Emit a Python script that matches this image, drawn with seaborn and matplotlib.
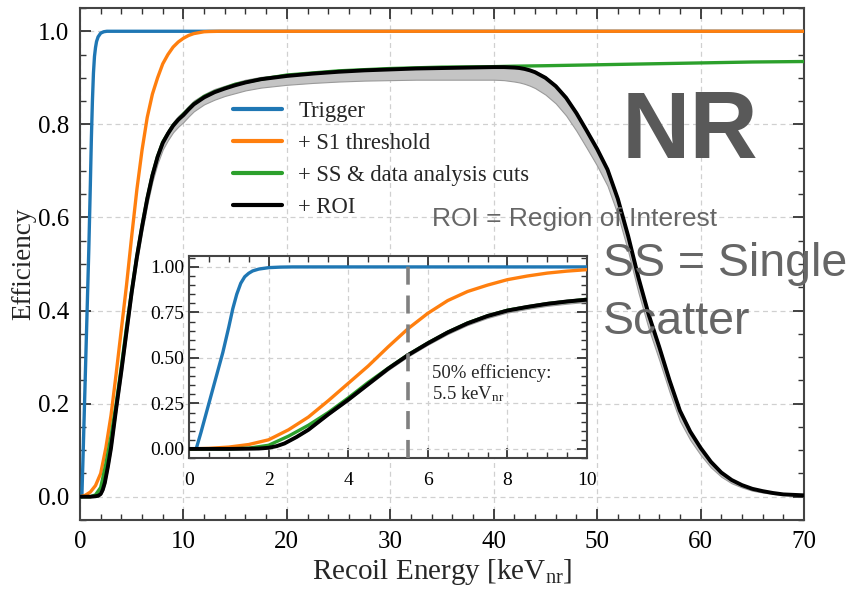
import numpy as np
import pandas as pd
import matplotlib
matplotlib.use("Agg")
import matplotlib.pyplot as plt
from matplotlib.ticker import MultipleLocator
import seaborn as sns

# ---------------- data ----------------
trigger_E = [0, 0.18, 0.3, 0.5, 0.7, 0.85, 1.0, 1.1, 1.2, 1.3, 1.4, 1.5, 1.6, 1.75, 2.0, 2.3, 2.6, 70]
trigger_eff = [0, 0, 0.09, 0.25, 0.41, 0.53, 0.67, 0.77, 0.85, 0.91, 0.946, 0.965, 0.978, 0.988, 0.996, 0.999,
               1.0, 1.0]

s1_E = [0, 0.5, 1.0, 1.5, 2.0, 2.5, 3.0, 3.5, 4.0, 4.5, 5.0, 5.5, 6.0, 6.5, 7.0, 7.5, 8.0, 8.5, 9.0, 9.5, 10,
        10.5, 11, 11.5, 12, 12.5, 13.5, 70]
s1_eff = [0, 0.003, 0.01, 0.024, 0.05, 0.105, 0.175, 0.265, 0.36, 0.455, 0.56, 0.66, 0.745, 0.815, 0.865, 0.9,
          0.93, 0.95, 0.966, 0.977, 0.985, 0.991, 0.995, 0.997, 0.999, 0.9995, 1.0, 1.0]

ss_E = [0, 1.0, 1.5, 2.0, 2.5, 3.0, 3.5, 4.0, 4.5, 5.0, 5.5, 6, 6.5, 7, 7.5, 8, 9, 10, 11, 12, 13, 15, 17.5, 20,
        25, 30, 35, 40, 42, 45, 50, 55, 60, 65, 70]
ss_eff = [0, 0.0, 0.004, 0.02, 0.07, 0.13, 0.2, 0.28, 0.365, 0.443, 0.517, 0.582, 0.641, 0.692, 0.731, 0.762,
          0.798, 0.822, 0.844, 0.86, 0.87, 0.886, 0.897, 0.906, 0.915, 0.92, 0.923, 0.924, 0.925, 0.926, 0.928,
          0.930, 0.932, 0.934, 0.935]

roi_E = [0, 1.0, 1.5, 1.75, 2.0, 2.2, 2.4, 2.7, 3.0, 3.5, 4.0, 4.5, 5.0, 5.5, 6.0, 6.5, 7.0, 7.5, 8.0, 8.5, 9.0,
         9.5, 10, 10.5, 11, 12, 13, 14, 15, 16, 17.5, 20, 22.5, 25, 27.5, 30, 32.5, 35, 37.5, 40, 41, 42, 42.5,
         43, 43.5, 44, 45, 46, 47, 48, 49, 50, 51, 52, 53, 54, 55, 56, 57, 58, 59, 60, 61, 62, 63, 64, 65, 66,
         67, 68, 69, 70]
roi_eff = [0, 0, 0.001, 0.002, 0.006, 0.015, 0.03, 0.065, 0.105, 0.19, 0.27, 0.355, 0.44, 0.515, 0.58, 0.64,
           0.69, 0.73, 0.76, 0.78, 0.797, 0.81, 0.82, 0.832, 0.843, 0.858, 0.869, 0.877, 0.884, 0.89, 0.897,
           0.904, 0.909, 0.913, 0.916, 0.918, 0.92, 0.921, 0.922, 0.923, 0.923, 0.922, 0.921, 0.919, 0.916,
           0.912, 0.9, 0.882, 0.857, 0.824, 0.786, 0.747, 0.703, 0.64, 0.56, 0.47, 0.39, 0.322, 0.25, 0.185,
           0.14, 0.105, 0.075, 0.052, 0.036, 0.025, 0.017, 0.012, 0.008, 0.005, 0.004, 0.003]
# uncertainty band (below / above the ROI curve)
roi_err_lo = [0, 0, 0, 0.001, 0.002, 0.003, 0.004, 0.005, 0.006, 0.008, 0.01, 0.01, 0.012, 0.012, 0.012, 0.013,
              0.013, 0.014, 0.014, 0.014, 0.014, 0.015, 0.015, 0.015, 0.015, 0.015, 0.016, 0.016, 0.017, 0.017,
              0.018, 0.019, 0.02, 0.021, 0.022, 0.023, 0.024, 0.025, 0.026, 0.027, 0.028, 0.03, 0.031, 0.032,
              0.033, 0.034, 0.036, 0.037, 0.038, 0.038, 0.037, 0.036, 0.035, 0.034, 0.033, 0.032, 0.03, 0.028,
              0.025, 0.022, 0.018, 0.015, 0.012, 0.009, 0.007, 0.005, 0.004, 0.003, 0.002, 0.001, 0.001, 0.001]
roi_err_hi = [0, 0, 0, 0.001, 0.002, 0.003, 0.004, 0.005, 0.005, 0.006, 0.007, 0.008, 0.008, 0.008, 0.008,
              0.008, 0.008, 0.008, 0.008, 0.008, 0.008, 0.008, 0.008, 0.008, 0.008, 0.007, 0.007, 0.006, 0.006,
              0.006, 0.005, 0.004, 0.003, 0.003, 0.003, 0.003, 0.003, 0.003, 0.003, 0.003, 0.003, 0.003, 0.003,
              0.003, 0.003, 0.003, 0.003, 0.003, 0.003, 0.003, 0.003, 0.003, 0.003, 0.003, 0.003, 0.003, 0.003,
              0.003, 0.003, 0.002, 0.002, 0.002, 0.002, 0.002, 0.001, 0.001, 0.001, 0.001, 0.001, 0.001, 0.001,
              0.001]

labels = ["Trigger", "+ S1 threshold", "+ SS & data analysis cuts", "+ ROI"]
colors = ["#1f77b4", "#ff7f0e", "#2ca02c", "black"]
threshold_50 = 5.5

# ---------------- style ----------------
sns.set_theme(style="ticks")
plt.rcParams["font.family"] = ["Liberation Serif", "DejaVu Serif"]
plt.rcParams["mathtext.fontset"] = "custom"
plt.rcParams["mathtext.rm"] = "Liberation Serif"
plt.rcParams["mathtext.it"] = "Liberation Serif:italic"

fig = plt.figure(figsize=(8.52, 5.91), dpi=100)
ax = fig.add_axes([80 / 852, 1 - 520 / 591, 724 / 852, 512 / 591])
axin = fig.add_axes([189 / 852, 1 - 458 / 591, 398 / 852, 202 / 591])

band_color = "#c4c4c4"


def draw(a, legend=False):
    lo = np.array(roi_eff) - np.array(roi_err_lo)
    hi = np.array(roi_eff) + np.array(roi_err_hi)
    a.fill_between(roi_E, lo, hi, color=band_color, edgecolor="#9a9a9a", linewidth=0.8, zorder=2)
    sns.lineplot(x=trigger_E, y=trigger_eff, ax=a, color=colors[0], lw=2.4,
                 label=labels[0] if legend else None, zorder=3)
    sns.lineplot(x=s1_E, y=s1_eff, ax=a, color=colors[1], lw=2.4,
                 label=labels[1] if legend else None, zorder=3)
    sns.lineplot(x=ss_E, y=ss_eff, ax=a, color=colors[2], lw=2.4,
                 label=labels[2] if legend else None, zorder=3)
    sns.lineplot(x=roi_E, y=roi_eff, ax=a, color=colors[3], lw=2.8,
                 label=labels[3] if legend else None, zorder=4)


def style_axes(a):
    a.grid(True, which="major", linestyle=(0, (4, 3)), color="#d0d0d0", linewidth=0.9)
    a.tick_params(which="both", direction="in", top=True, right=True, colors="#333333")
    a.tick_params(which="major", length=8, width=1.3)
    a.tick_params(which="minor", length=4, width=1.0)
    for s in a.spines.values():
        s.set_color("#444444")
        s.set_linewidth(1.5)


draw(ax, legend=True)
ax.set_xlim(0, 70)
ax.set_ylim(-0.05, 1.05)
ax.xaxis.set_major_locator(MultipleLocator(10))
ax.xaxis.set_minor_locator(MultipleLocator(2))
ax.yaxis.set_major_locator(MultipleLocator(0.2))
ax.yaxis.set_minor_locator(MultipleLocator(0.05))
ax.yaxis.set_major_formatter(matplotlib.ticker.FormatStrFormatter("%.1f"))
style_axes(ax)
ax.tick_params(labelsize=18, labelcolor="black", pad=8)
ax.set_xlabel(r"Recoil Energy [keV$_\mathrm{nr}$]", fontsize=21, labelpad=3)
ax.set_ylabel("Efficiency", fontsize=19.5, labelpad=1)

leg = ax.legend(loc="upper left", bbox_to_anchor=(0.199, 0.836), frameon=False, fontsize=16.3,
                handlelength=2.17, handletextpad=0.7, labelspacing=0.49, borderaxespad=0)
for h in leg.get_lines():
    h.set_linewidth(3)

draw(axin)
axin.axvline(threshold_50, color="#808080", linestyle=(0, (5, 3)), lw=2.6, zorder=5)
axin.set_xlim(0, 10)
axin.set_ylim(-0.05, 1.06)
axin.xaxis.set_major_locator(MultipleLocator(2))
axin.xaxis.set_minor_locator(MultipleLocator(0.5))
axin.yaxis.set_major_locator(MultipleLocator(0.25))
axin.yaxis.set_minor_locator(MultipleLocator(0.05))
axin.yaxis.set_major_formatter(matplotlib.ticker.FormatStrFormatter("%.2f"))
style_axes(axin)
axin.tick_params(which="major", length=7)
axin.tick_params(labelsize=14, labelcolor="black")
axin.tick_params(axis="x", pad=10)
axin.set_facecolor("white")
axin.set_zorder(5)
axin.text(6.1, 0.357, "50% efficiency:\n5.5 keV$_\\mathrm{nr}$", fontsize=13.5, va="center", ha="left",
          linespacing=1.2)

# annotation texts
fig.text(622 / 852, 1 - 158 / 591, "NR", fontsize=68, fontweight="bold", color="#595959",
         family=["Liberation Sans", "DejaVu Sans"], va="baseline", ha="left")
fig.text(432 / 852, 1 - 226 / 591, "ROI = Region of Interest", fontsize=19, color="#666666",
         family=["Liberation Sans", "DejaVu Sans"], va="baseline", ha="left", zorder=10)
fig.text(603 / 852, 1 - 276 / 591, "SS = Single", fontsize=33.5, color="#666666",
         family=["Liberation Sans", "DejaVu Sans"], va="baseline", ha="left", zorder=10)
fig.text(603 / 852, 1 - 334 / 591, "Scatter", fontsize=33.5, color="#666666",
         family=["Liberation Sans", "DejaVu Sans"], va="baseline", ha="left", zorder=10)

fig.savefig("out.png", dpi=100)
